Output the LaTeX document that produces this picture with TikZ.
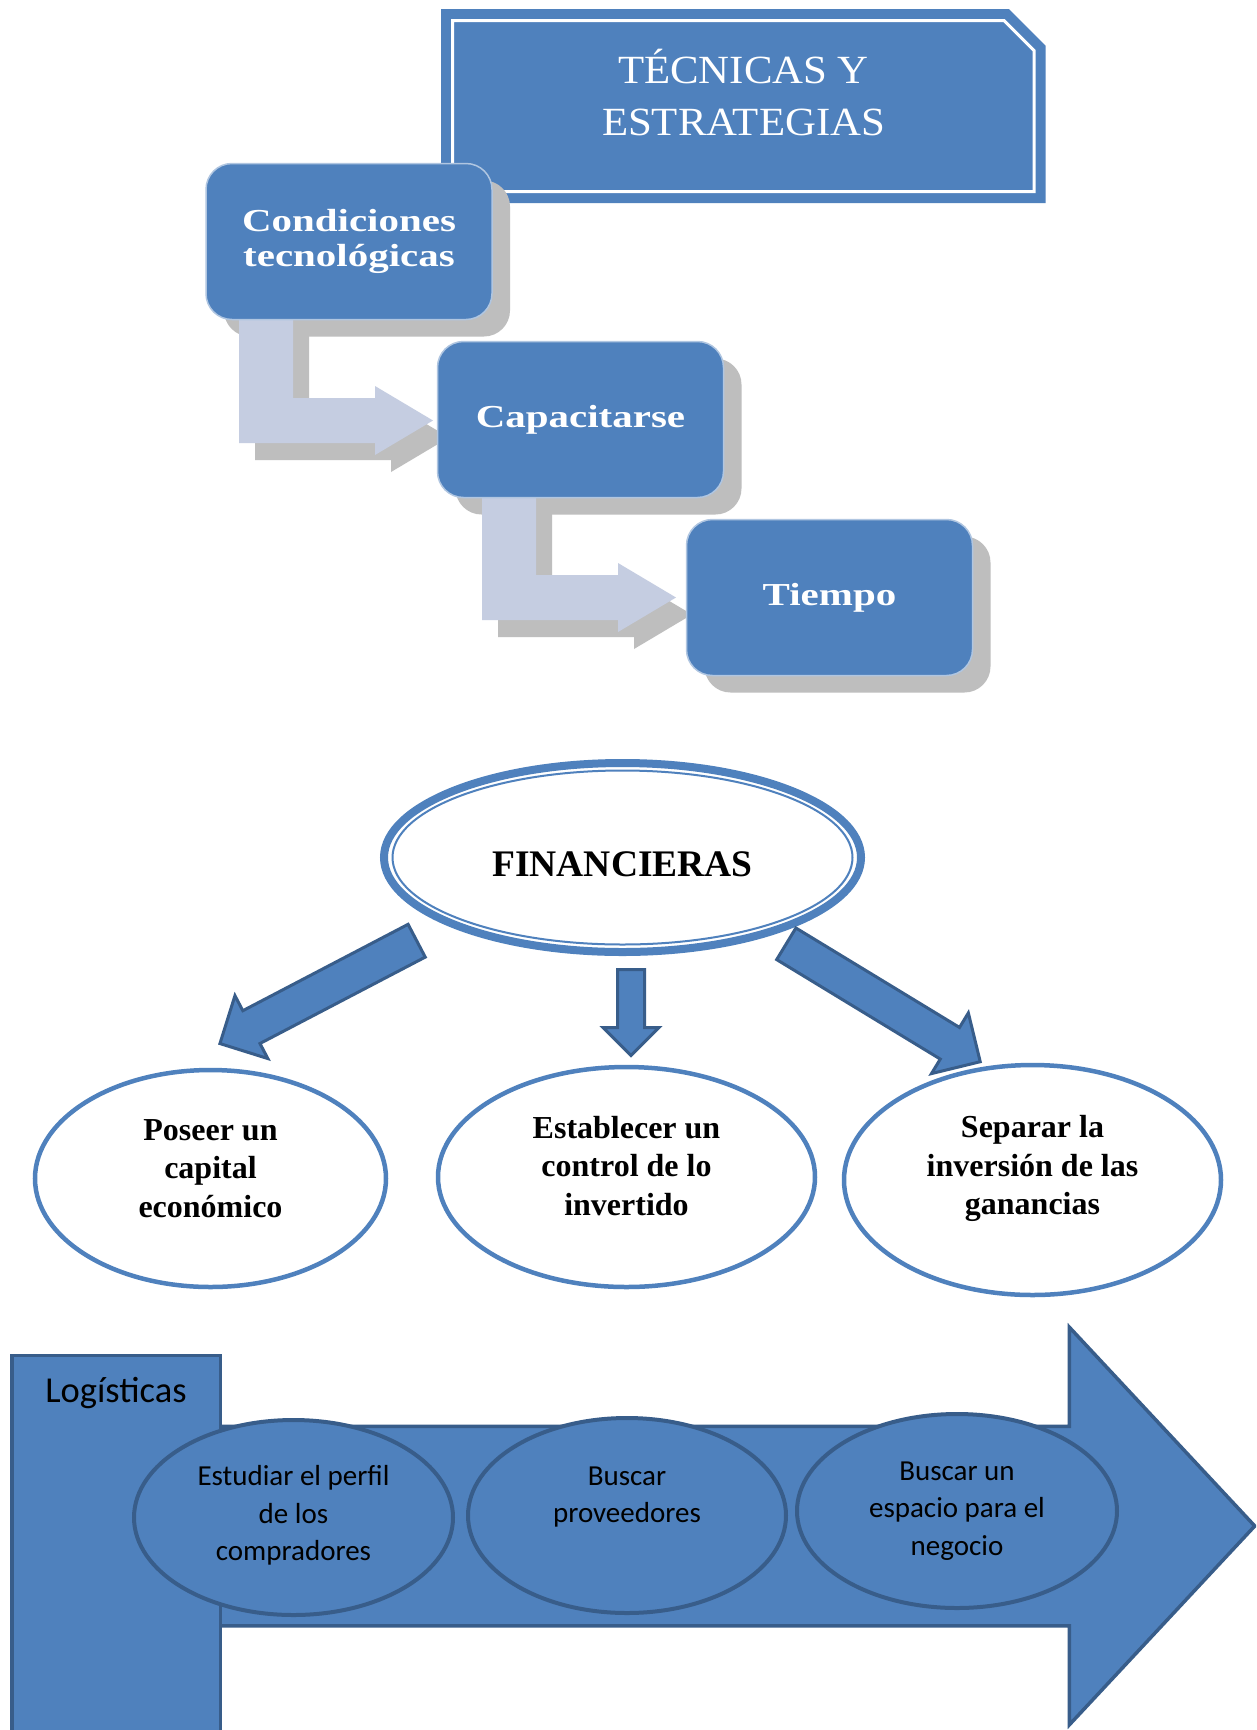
\documentclass[tikz,border=0pt]{standalone}
\usepackage{fontspec}
\setmainfont{Liberation Serif}
\newfontfamily\wideserif[FakeStretch=1.28]{Liberation Serif}
\newfontfamily\titleserif[FakeStretch=1.07]{Liberation Serif}
\newfontfamily\calibrifont{Carlito}
\usetikzlibrary{shapes.geometric,shapes.arrows}

\definecolor{accent}{HTML}{4F81BD}
\definecolor{accentdark}{HTML}{385D8A}
\definecolor{flowlight}{HTML}{C5CDE1}
\definecolor{shade}{HTML}{BEBEBE}

\tikzset{
  % process steps of the upper block
  stepbox/.style={rectangle, rounded corners=26pt, fill=accent, draw=white!55!accent,
    line width=1.5pt, minimum width=286pt, minimum height=156pt, inner sep=0pt,
    text=white, align=center, font=\wideserif\bfseries\fontsize{32}{35}\selectfont},
  stepshadow/.style={rectangle, rounded corners=26pt, fill=shade,
    minimum width=286pt, minimum height=156pt, inner sep=0pt},
  stairarrow/.pic={\path[pic actions] (0,0) -- (54,0) -- (54,98) -- (136,98) -- (136,86)
    -- (194,120.5) -- (136,155) -- (136,143) -- (0,143) -- cycle;},
  titleframe/.style={draw=accent, line width=10pt, double=white, double distance=3pt,
    fill=accent, line join=miter},
  % financial block
  mainoval/.style={ellipse, draw=accent, line width=8pt, fill=white,
    minimum width=477pt, minimum height=189pt, inner sep=0pt},
  leafoval/.style={ellipse, draw=accent, line width=4.5pt, fill=white, inner sep=0pt},
  leaftext/.style={align=center, font=\bfseries\fontsize{32}{38.5}\selectfont},
  downarrow/.style={single arrow, draw=accentdark, fill=accent, line width=3pt,
    inner xsep=0pt, inner ysep=17pt, single arrow tip angle=90, minimum width=68pt,
    single arrow head extend=17pt, anchor=tail},
  % logistics block
  flowarrow/.style={single arrow, draw=accentdark, fill=accent, line width=3.5pt,
    inner xsep=0pt, inner ysep=98pt, minimum width=394pt, single arrow head extend=99pt,
    single arrow tip angle=94, minimum height=1103pt, anchor=tail},
  logbox/.style={rectangle, draw=accentdark, fill=accent, line width=3.5pt,
    minimum width=208.5pt, minimum height=400pt, inner sep=0pt},
  stageoval/.style={ellipse, draw=accentdark, fill=accent, line width=4pt,
    inner sep=0pt, minimum height=195pt},
  stagetext/.style={align=center, font=\calibrifont\fontsize{29}{37.5}\selectfont},
}

\begin{document}
\begin{tikzpicture}[x=1pt, y=-1pt]
\clip (0,0) rectangle (1256,1730);
\fill[white] (0,0) rectangle (1256,1730);

% ---------- techniques and strategies ----------
\draw[titleframe] (452.5,20.5) -- (1004,20.5) -- (1034,50.5) -- (1034,191.5)
  -- (452.5,191.5) -- cycle;
\node[text=white, align=center, font=\titleserif\fontsize{40}{52}\selectfont] (title)
  at (743.5,93) {TÉCNICAS Y\\ESTRATEGIAS};

% shadows
\node[stepshadow] (condsh) at (367,258.5) {};
\node[stepshadow] (capash) at (598.5,436.5) {};
\node[stepshadow] (tiemsh) at (847.5,614.5) {};
\pic[fill=shade] at (255,317) {stairarrow};
\pic[fill=shade] at (498,494) {stairarrow};

% connecting arrows
\pic[fill=flowlight] at (239,300) {stairarrow};
\pic[fill=flowlight] at (482,477) {stairarrow};

% steps
\node[stepbox] (cond) at (349,241.5) {Condiciones\\tecnológicas};
\node[stepbox] (capa) at (580.5,419.5) {Capacitarse};
\node[stepbox] (tiem) at (829.5,597.5) {Tiempo};

% ---------- financial ----------
\node[mainoval] (fin) at (622.5,857.5) {};
\draw[accent, line width=2pt] (fin.center) ellipse [x radius=230pt, y radius=87pt];
\node[font=\bfseries\fontsize{37.5}{40}\selectfont] (fintext) at (622.5,864.5) {FINANCIERAS};

\node[downarrow, rotate=-152.4, minimum height=222pt] (arrl) at (418,940) {};
\node[downarrow, rotate=-90, minimum height=86pt, minimum width=53pt, inner ysep=12pt,
  single arrow head extend=14.5pt] (arrm) at (631,968) {};
\node[downarrow, rotate=-31.3, minimum height=227pt] (arrr) at (785,943) {};

\node[leafoval, minimum width=351pt, minimum height=217pt] (capital) at (210.5,1178.5) {};
\node[leafoval, minimum width=377pt, minimum height=220pt] (control) at (626.5,1177) {};
\node[leafoval, minimum width=377pt, minimum height=230pt] (separar) at (1032.5,1180) {};
\node[leaftext] (capitaltext) at (210.5,1168.5) {Poseer un\\capital\\económico};
\node[leaftext] (controltext) at (626.5,1166) {Establecer un\\control de lo\\invertido};
\node[leaftext] (separartext) at (1032.5,1168.5) {Separar la\\inversión de las\\ganancias};

% ---------- logistics ----------
\node[flowarrow] (flow) at (150,1526) {};
\node[logbox, anchor=north] (logi) at (116,1353.75) {};
\node[font=\calibrifont\fontsize{36.5}{40}\selectfont] (logitext) at (116,1392.5) {Logísticas};

\node[stageoval, minimum width=319pt] (perfil) at (293.5,1517.5) {};
\node[stageoval, minimum width=318pt] (prov) at (627,1515.5) {};
\node[stageoval, minimum width=320pt, minimum height=194pt] (espacio) at (957,1511) {};
\node[stagetext] (perfiltext) at (293.5,1515.5) {Estudiar el perfil\\de los\\compradores};
\node[stagetext] (provtext) at (627,1497) {Buscar\\proveedores};
\node[stagetext] (espaciotext) at (957,1511) {Buscar un\\espacio para el\\negocio};
\end{tikzpicture}
\end{document}
